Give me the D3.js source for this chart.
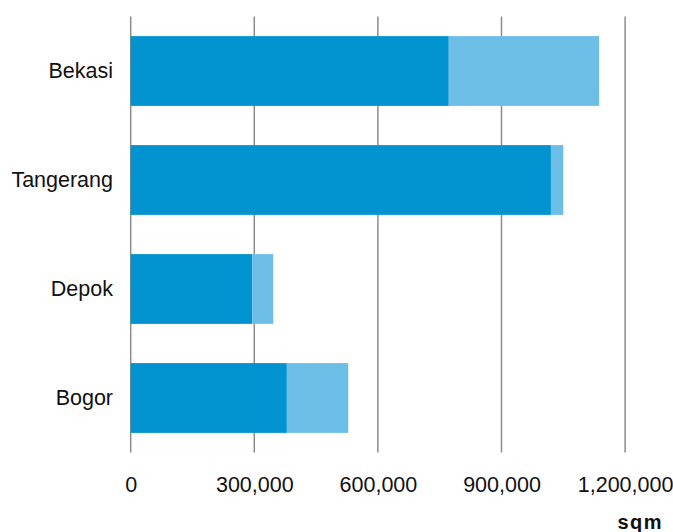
<!DOCTYPE html>
<html>
<head>
<meta charset="utf-8">
<script src="https://cdn.jsdelivr.net/npm/d3@7"></script>
<style>
  body { margin: 0; background: #fff; }
  svg { display: block; font-family: "Liberation Sans", Arial, sans-serif; }
</style>
</head>
<body>
<div id="chart"></div>
<script>
// data (sqm)
const regions = ['Bekasi', 'Tangerang', 'Depok', 'Bogor'];
const existing = [772000, 1020000, 295000, 379000];
const pipeline = [365000, 30000, 51000, 149000];
const xTicks = [0, 300000, 600000, 900000, 1200000];

const width = 673, height = 532;

const svg = d3.select('#chart').append('svg')
  .attr('width', width)
  .attr('height', height);

const x = d3.scaleLinear().domain([0, 1200000]).range([130.7, 625.1]);
const y = d3.scaleBand().domain(regions).range([16.5, 452.5])
  .paddingInner(0.36).paddingOuter(0.18);

// vertical gridlines
svg.append('g')
  .selectAll('line')
  .data(xTicks)
  .join('line')
  .attr('x1', d => x(d)).attr('x2', d => x(d))
  .attr('y1', 16.5).attr('y2', 452.5)
  .attr('stroke', '#8c8c8c')
  .attr('stroke-width', 1.5);

// stacked bars
const rows = regions.map((r, i) => ({ region: r, a: existing[i], b: pipeline[i] }));

svg.append('g').selectAll('rect')
  .data(rows)
  .join('rect')
  .attr('x', x(0))
  .attr('y', d => y(d.region))
  .attr('width', d => x(d.a) - x(0))
  .attr('height', y.bandwidth())
  .attr('fill', '#0093cf');

svg.append('g').selectAll('rect')
  .data(rows)
  .join('rect')
  .attr('x', d => x(d.a))
  .attr('y', d => y(d.region))
  .attr('width', d => x(d.a + d.b) - x(d.a))
  .attr('height', y.bandwidth())
  .attr('fill', '#6cbee6');

// category labels
svg.append('g').selectAll('text')
  .data(regions)
  .join('text')
  .attr('x', 113)
  .attr('y', d => y(d) + y.bandwidth() / 2)
  .attr('dy', '0.32em')
  .attr('text-anchor', 'end')
  .attr('font-size', '21.5px')
  .attr('fill', '#111')
  .text(d => d);

// x axis labels
const xAxis = d3.axisBottom(x)
  .tickValues(xTicks)
  .tickSize(0)
  .tickPadding(0)
  .tickFormat(d3.format(','));

const ax = svg.append('g')
  .attr('transform', 'translate(0,477)')
  .call(xAxis);
ax.select('.domain').remove();
ax.selectAll('text')
  .attr('font-size', '21.5px')
  .attr('font-family', '"Liberation Sans", Arial, sans-serif')
  .attr('fill', '#111')
  .attr('dy', '0.71em');

// unit label
svg.append('text')
  .attr('x', 663)
  .attr('y', 529)
  .attr('text-anchor', 'end')
  .attr('font-size', '20px')
  .attr('font-weight', 'bold')
  .attr('letter-spacing', '1.5px')
  .attr('fill', '#111')
  .text('sqm');
</script>
</body>
</html>
